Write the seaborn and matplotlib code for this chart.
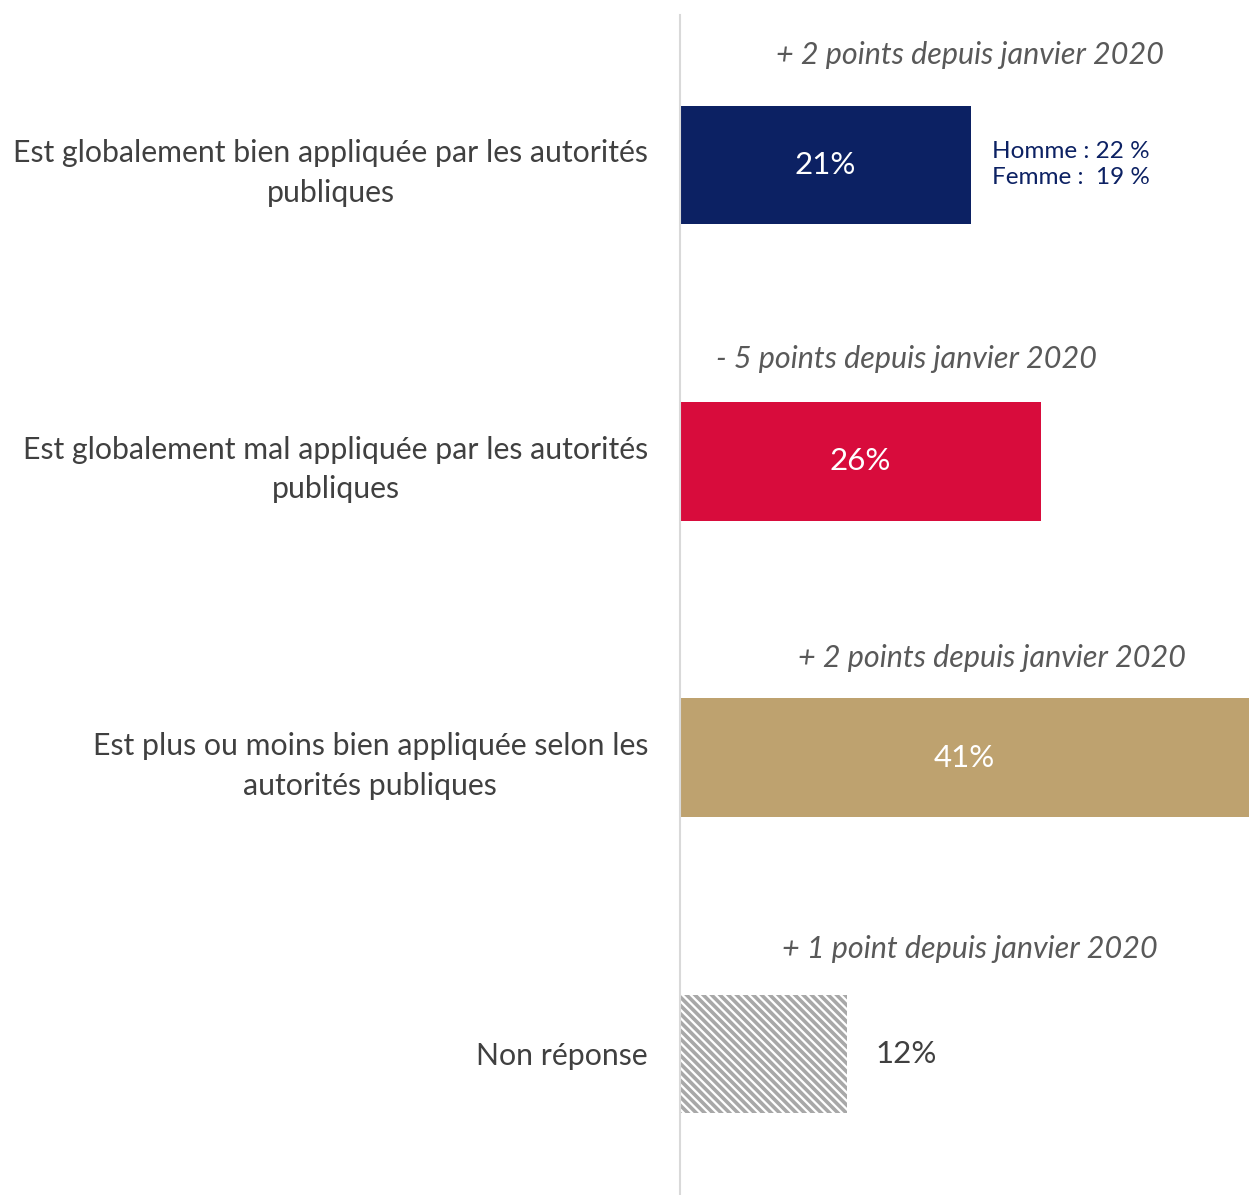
import matplotlib
matplotlib.use('Agg')
from matplotlib import pyplot as plt
import seaborn as sns
import pandas as pd

categories = [
    'Est globalement bien appliquée par les autorités\npubliques',
    'Est globalement mal appliquée par les autorités\npubliques',
    'Est plus ou moins bien appliquée selon les\nautorités publiques',
    'Non réponse',
]
values = [21, 26, 41, 12]
value_labels = ['21%', '26%', '41%', '12%']
evolutions = [
    '+ 2 points depuis janvier 2020',
    '- 5 points depuis janvier 2020',
    '+ 2 points depuis janvier 2020',
    '+ 1 point depuis janvier 2020',
]
gender_note = 'Homme : 22 %\nFemme :  19 %'
colors = ['#0c2163', '#d80c3c', '#bea26f', '#ffffff']

df = pd.DataFrame({'cat': categories, 'val': values})

sns.set_style('white')
plt.rcParams['font.family'] = ['Lato', 'DejaVu Sans']
plt.rcParams['hatch.linewidth'] = 2.6
plt.rcParams['hatch.color'] = '#a8a8a8'

fig = plt.figure(figsize=(12.49, 11.95), dpi=100)
ax = fig.add_axes([0.5444, 0.0, 0.4556, 0.9875])
sns.barplot(data=df, x='val', y='cat', hue='cat', palette=colors,
            legend=False, width=0.4, orient='h', ax=ax, saturation=1)

for i, p in enumerate(ax.patches):
    p.set_linewidth(0)
    if i == 3:
        p.set_facecolor('white')
        p.set_edgecolor('#a8a8a8')
        p.set_hatch('\\' * 4)

ax.set_xlim(0, 41)
ax.set_ylim(3.476, -0.506)
ax.set_xlabel('')
ax.set_ylabel('')
ax.set_xticks([])
for s in ['top', 'right', 'bottom']:
    ax.spines[s].set_visible(False)
ax.spines['left'].set_color('#d9d9d9')
ax.spines['left'].set_linewidth(1.5)

ax.tick_params(axis='y', length=0, pad=23)
for t in ax.get_yticklabels():
    t.set_multialignment('center')
    t.set_fontsize(21.8)
    t.set_linespacing(1.5)
    t.set_color('#404040')

for i, (v, lab) in enumerate(zip(values, value_labels)):
    if i < 3:
        ax.text(v / 2, i, lab, ha='center', va='center', color='white', fontsize=22.5)
    else:
        ax.text(v + 2.1, i, lab, ha='left', va='center', color='#404040', fontsize=22.5)

evo_x = [20.9, 16.35, 22.5, 20.9]
evo_dy = [-0.37, -0.345, -0.335, -0.355]
for i, txt in enumerate(evolutions):
    ax.text(evo_x[i], i + evo_dy[i], txt, ha='center', va='center',
            style='italic', color='#595959', fontsize=22)

ax.text(22.5, 0, gender_note, ha='left', va='center', color='#0c2163',
        fontsize=17.5, linespacing=1.3)

fig.savefig('out.png', dpi=100)
